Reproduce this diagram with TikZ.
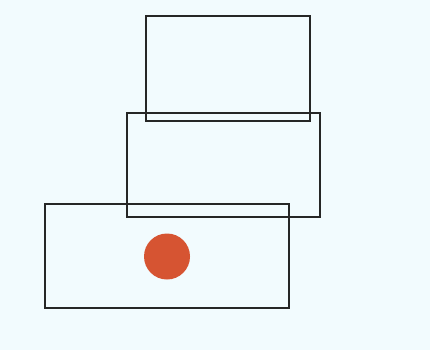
\documentclass[tikz,border=0pt]{standalone}
\usepackage{tikz}

\definecolor{paper}{RGB}{242,251,254}
\definecolor{brick}{RGB}{214,84,50}

\tikzset{
  box/.style={draw=black!85, line width=1.8pt, rectangle, inner sep=0pt},
  dot/.style={circle, fill=brick, inner sep=0pt, minimum size=46pt}
}

\begin{document}
\begin{tikzpicture}[x=1pt, y=-1pt]
    % Background
      \fill[paper] (0,0) rectangle (430,350);
      \useasboundingbox (0,0) rectangle (430,350);

      % Boxes
      \node[box, minimum width=164pt, minimum height=105pt] (top) at (228,68.5) {};
      \node[box, minimum width=193pt, minimum height=104pt] (middle) at (223.5,165) {};
      \node[box, minimum width=244pt, minimum height=104pt] (bottom) at (167,256) {};

      % Dot
      \node[dot] (ball) at (167,256.5) {};
  \end{tikzpicture}
\end{document}
